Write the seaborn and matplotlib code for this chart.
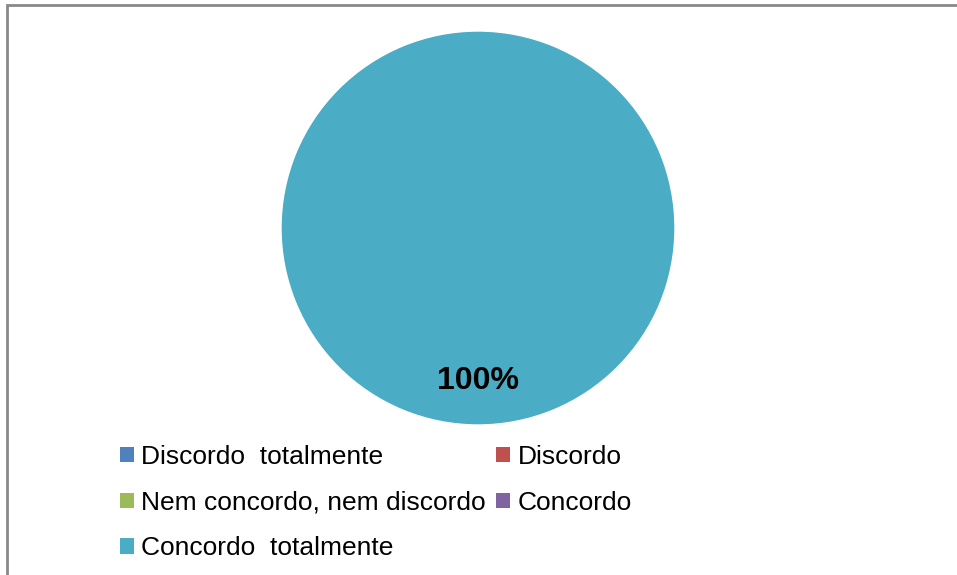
import matplotlib.pyplot as plt
import matplotlib.patches as mpatches
import seaborn as sns

# dados do gráfico
categorias = ['Discordo  totalmente', 'Discordo', 'Nem concordo, nem discordo',
              'Concordo', 'Concordo  totalmente']
valores = [0, 0, 0, 0, 100]
cores = ['#4F81BD', '#C0504D', '#9BBB59', '#8064A2', '#4BACC6']

sns.set_theme(style='white')
plt.rcParams['font.family'] = ['Liberation Sans', 'DejaVu Sans']
plt.rcParams['text.color'] = 'black'

fig = plt.figure(figsize=(9.57, 5.75), dpi=100)
W, H = 957, 575

# moldura cinza (só esquerda e topo aparecem)
fig.patches.append(mpatches.Rectangle((7 / W, -0.1), 1.2, 1 - 5 / H + 0.1,
                                      transform=fig.transFigure, fill=False,
                                      edgecolor='#898989', linewidth=2))

# eixo da pizza: centro (478, 228), raio ~197
r = 197
ax = fig.add_axes([(478 - r) / W, 1 - (228 + r) / H, 2 * r / W, 2 * r / H])


def rotulo(p):
    return f'{p:.0f}%' if p > 0 else ''


wedges, textos, autotextos = ax.pie(valores, colors=cores, startangle=90,
                                    autopct=rotulo, pctdistance=0.775,
                                    radius=1.0,
                                    textprops=dict(fontsize=23, fontweight='bold',
                                                   color='black'))
ax.set_xlim(-1, 1)
ax.set_ylim(-1, 1)
ax.set_aspect('equal')

# legenda em ordem por linha
handles = [mpatches.Patch(facecolor=c, edgecolor='none') for c in cores]
ordem = [0, 2, 4, 1, 3]
fig.legend([handles[i] for i in ordem], [categorias[i] for i in ordem],
           loc='upper left', bbox_to_anchor=(120 / W, 1 - 445 / H), ncol=2,
           frameon=False, fontsize=19, handlelength=0.53, handleheight=0.53,
           handletextpad=0.28, columnspacing=0.38, labelspacing=0.82,
           borderpad=0, borderaxespad=0, labelcolor='black')

fig.savefig('out.png', dpi=100)
